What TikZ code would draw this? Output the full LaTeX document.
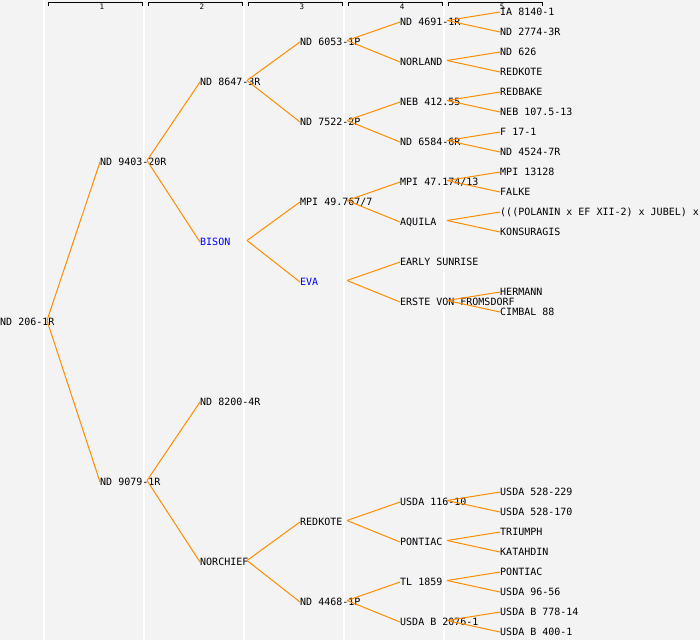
\documentclass[tikz,border=0pt]{standalone}
\usepackage{fontspec}
\setmonofont{DejaVu Sans Mono}
\usepackage{xcolor}
\usepackage{tikz}

\definecolor{bggray}{HTML}{F3F3F3}
\definecolor{linkorange}{HTML}{FF8C00}
\definecolor{namblue}{HTML}{0000FF}

\tikzset{
  entry/.style={anchor=west, inner sep=0pt, text height=7pt, text depth=0pt,
    font=\ttfamily\fontsize{10}{12}\selectfont},
  blue entry/.style={entry, text=namblue},
  link/.style={linkorange, line width=1pt},
  colsep/.style={white, line width=1.2pt},
  bracket/.style={black, line width=1pt}
}

\begin{document}
\begin{tikzpicture}[x=1pt, y=-1pt]
  \fill[bggray] (0,0) rectangle (700,640);
  \useasboundingbox (0,0) rectangle (700,640);

  % Column separators and headers
  \foreach \k in {1,...,5} {
    \draw[colsep] (\k*100-56,0) -- (\k*100-56,640);
    \draw[bracket] (\k*100-52,5.5) -- (\k*100-52,2) -- (\k*100+42,2) -- (\k*100+42,5.5);
    \node[inner sep=0pt, font=\ttfamily\fontsize{7.5}{8}\selectfont] (h\k) at (\k*100+2,6.5) {\k};
  }

  % Generation 0
  \node[entry] (r) at (0,322) {ND 206-1R};

  % Generation 1
  \node[entry] (r1) at (100,162) {ND 9403-20R};
  \node[entry] (r2) at (100,482) {ND 9079-1R};

  % Generation 2
  \node[entry] (r11) at (200,82) {ND 8647-3R};
  \node[blue entry] (r12) at (200,242) {BISON};
  \node[entry] (r21) at (200,402) {ND 8200-4R};
  \node[entry] (r22) at (200,562) {NORCHIEF};

  % Generation 3
  \node[entry] (r111) at (300,42) {ND 6053-1P};
  \node[entry] (r112) at (300,122) {ND 7522-2P};
  \node[entry] (r121) at (300,202) {MPI 49.767/7};
  \node[blue entry] (r122) at (300,282) {EVA};
  \node[entry] (r221) at (300,522) {REDKOTE};
  \node[entry] (r222) at (300,602) {ND 4468-1P};

  % Generation 4
  \node[entry] (r1111) at (400,22) {ND 4691-1R};
  \node[entry] (r1112) at (400,62) {NORLAND};
  \node[entry] (r1121) at (400,102) {NEB 412.55};
  \node[entry] (r1122) at (400,142) {ND 6584-6R};
  \node[entry] (r1211) at (400,182) {MPI 47.174/13};
  \node[entry] (r1212) at (400,222) {AQUILA};
  \node[entry] (r1221) at (400,262) {EARLY SUNRISE};
  \node[entry] (r1222) at (400,302) {ERSTE VON FROMSDORF};
  \node[entry] (r2211) at (400,502) {USDA 116-10};
  \node[entry] (r2212) at (400,542) {PONTIAC};
  \node[entry] (r2221) at (400,582) {TL 1859};
  \node[entry] (r2222) at (400,622) {USDA B 2076-1};

  % Generation 5
  \node[entry] (r11111) at (500,12) {IA 8140-1};
  \node[entry] (r11112) at (500,32) {ND 2774-3R};
  \node[entry] (r11121) at (500,52) {ND 626};
  \node[entry] (r11122) at (500,72) {REDKOTE};
  \node[entry] (r11211) at (500,92) {REDBAKE};
  \node[entry] (r11212) at (500,112) {NEB 107.5-13};
  \node[entry] (r11221) at (500,132) {F 17-1};
  \node[entry] (r11222) at (500,152) {ND 4524-7R};
  \node[entry] (r12111) at (500,172) {MPI 13128};
  \node[entry] (r12112) at (500,192) {FALKE};
  \node[entry] (r12121) at (500,212) {(((POLANIN x EF XII-2) x JUBEL) x};
  \node[entry] (r12122) at (500,232) {KONSURAGIS};
  \node[entry] (r12221) at (500,292) {HERMANN};
  \node[entry] (r12222) at (500,312) {CIMBAL 88};
  \node[entry] (r22111) at (500,492) {USDA 528-229};
  \node[entry] (r22112) at (500,512) {USDA 528-170};
  \node[entry] (r22121) at (500,532) {TRIUMPH};
  \node[entry] (r22122) at (500,552) {KATAHDIN};
  \node[entry] (r22211) at (500,572) {PONTIAC};
  \node[entry] (r22212) at (500,592) {USDA 96-56};
  \node[entry] (r22221) at (500,612) {USDA B 778-14};
  \node[entry] (r22222) at (500,632) {USDA B 400-1};

  % Parent links
  \foreach \p in {r,r1,r2,r11,r12,r22,r111,r112,r121,r122,r221,r222,
                  r1111,r1112,r1121,r1122,r1211,r1212,r1222,
                  r2211,r2212,r2221,r2222} {
    \draw[link] ([xshift=47pt,yshift=1.5pt]\p.west) -- (\p1.west);
    \draw[link] ([xshift=47pt,yshift=1.5pt]\p.west) -- (\p2.west);
  }
\end{tikzpicture}
\end{document}
